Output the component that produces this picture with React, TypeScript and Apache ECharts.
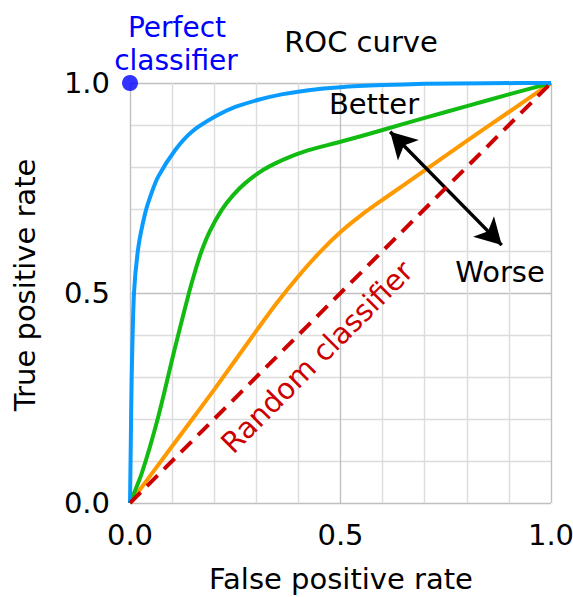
import React, { useEffect, useRef } from "react";
import * as echarts from "echarts";

const FONT = "DejaVu Sans";

// ROC curves (false positive rate, true positive rate)
const blueCurve: number[][] = [
  [0, 0], [0.002, 0.15], [0.004, 0.3], [0.0095, 0.5], [0.02, 0.61], [0.036, 0.69],
  [0.05, 0.735], [0.067, 0.777], [0.107, 0.84], [0.147, 0.884], [0.202, 0.92],
  [0.25, 0.943], [0.305, 0.96], [0.36, 0.973], [0.424, 0.983], [0.5, 0.99],
  [0.6, 0.995], [0.7, 0.998], [0.85, 0.9995], [1, 1],
];
const greenCurve: number[][] = [
  [0, 0], [0.028, 0.071], [0.067, 0.205], [0.107, 0.37], [0.14, 0.5], [0.155, 0.553],
  [0.17, 0.6], [0.19, 0.648], [0.218, 0.698], [0.245, 0.733], [0.273, 0.761],
  [0.31, 0.789], [0.344, 0.808], [0.38, 0.824], [0.424, 0.84], [0.5, 0.86],
  [0.6, 0.888], [0.7, 0.917], [0.8, 0.945], [0.9, 0.973], [1, 1],
];
const orangeCurve: number[][] = [
  [0, 0], [0.1, 0.135], [0.2, 0.27], [0.3, 0.41], [0.35, 0.478], [0.4, 0.54],
  [0.45, 0.596], [0.5, 0.645], [0.55, 0.686], [0.6, 0.722], [0.7, 0.792],
  [0.8, 0.862], [0.9, 0.931], [1, 1],
];
const randomLine: number[][] = [[0, 0], [1, 1]];
const perfectPoint: number[][] = [[0, 1]];
const arrowStart = [0.618, 0.884];
const arrowEnd = [0.883, 0.614];
const tickLabels = ["0.0", "0.5", "1.0"];

export default function App() {
  const ref = useRef<HTMLDivElement>(null);
  useEffect(() => {
    const chart = echarts.init(ref.current!, null, { renderer: "svg" });
    const fmt = (v: number) => {
      const k = Math.round(v * 2);
      return Math.abs(v * 2 - k) < 1e-6 ? tickLabels[k] : "";
    };
    const splitColors = ["#c0c0c0", "#dcdcdc", "#dcdcdc", "#dcdcdc", "#dcdcdc"];
    const txt = (
      text: string,
      x: number,
      y: number,
      fill: string,
      rotation = 0,
      fontSize = 29
    ) => ({
      type: "text",
      x,
      y,
      rotation,
      silent: true,
      z: 100,
      style: {
        text,
        fill,
        fontSize,
        fontFamily: FONT,
        align: "center",
        verticalAlign: "middle",
      },
    });
    chart.setOption({
      animation: false,
      backgroundColor: "#ffffff",
      grid: {
        left: 130,
        top: 83,
        width: 421,
        height: 420,
        containLabel: false,
        outerBoundsMode: "none",
      },
      xAxis: {
        type: "value",
        min: 0,
        max: 1,
        interval: 0.1,
        axisLine: { show: false },
        axisTick: { show: false },
        axisLabel: {
          formatter: fmt,
          color: "#000",
          fontSize: 29,
          fontFamily: FONT,
          margin: 17,
          showMinLabel: true,
          showMaxLabel: true,
        },
        splitLine: { show: true, lineStyle: { color: splitColors, width: 1.4 } },
      },
      yAxis: {
        type: "value",
        min: 0,
        max: 1,
        interval: 0.1,
        axisLine: { show: false },
        axisTick: { show: false },
        axisLabel: {
          formatter: fmt,
          color: "#000",
          fontSize: 29,
          fontFamily: FONT,
          margin: 20,
          showMinLabel: true,
          showMaxLabel: true,
        },
        splitLine: { show: true, lineStyle: { color: splitColors, width: 1.4 } },
      },
      series: [
        {
          type: "line",
          data: orangeCurve,
          smooth: 0.25,
          showSymbol: false,
          lineStyle: { color: "#ff9900", width: 4 },
          z: 3,
        },
        {
          type: "line",
          data: greenCurve,
          smooth: 0.25,
          showSymbol: false,
          lineStyle: { color: "#11bb11", width: 4 },
          z: 3,
        },
        {
          type: "line",
          data: blueCurve,
          smooth: 0.25,
          showSymbol: false,
          lineStyle: { color: "#0a9bff", width: 4 },
          z: 3,
        },
        {
          type: "line",
          data: [],
          z: 4,
          markLine: {
            silent: true,
            symbol: ["arrow", "arrow"],
            symbolSize: [22, 26],
            label: { show: false },
            lineStyle: { color: "#000000", width: 3.5, type: "solid" },
            emphasis: { disabled: true },
            data: [[{ coord: arrowStart }, { coord: arrowEnd }]],
          },
        },
        {
          type: "line",
          data: randomLine,
          showSymbol: false,
          lineStyle: { color: "#cc0000", width: 4, type: [15, 9] },
          z: 5,
        },
        {
          type: "scatter",
          data: perfectPoint,
          symbolSize: 16,
          itemStyle: { color: "#0000ff" },
          z: 6,
        },
      ],
      graphic: [
        txt("Perfect", 177, 27, "#0000ff", 0, 28),
        txt("classifier", 176, 60, "#0000ff", 0, 28),
        txt("ROC curve", 361, 42, "#000000"),
        txt("Better", 374, 104, "#000000"),
        txt("Worse", 500, 272, "#000000"),
        txt("Random classifier", 317, 357, "#cc0000", Math.PI / 4),
        txt("False positive rate", 341, 579, "#000000"),
        txt("True positive rate", 25, 285, "#000000", Math.PI / 2),
      ],
    });
    return () => chart.dispose();
  }, []);
  return (
    <div
      ref={ref}
      style={{ position: "absolute", left: 0, top: 0, width: 573, height: 597 }}
    />
  );
}
